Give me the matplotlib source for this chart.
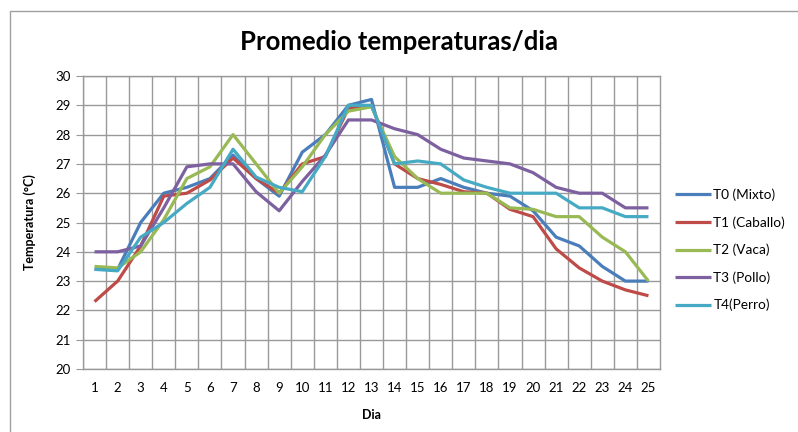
import matplotlib.pyplot as plt
from matplotlib.patches import Rectangle

dias = list(range(1, 26))

t0_mixto = [23.4, 23.4, 25.0, 26.0, 26.2, 26.5, 27.3, 26.5, 25.9, 27.4, 28.0, 29.0, 29.2,
            26.2, 26.2, 26.5, 26.2, 26.0, 25.9, 25.4, 24.5, 24.2, 23.5, 23.0, 23.0]
t1_caballo = [22.3, 23.0, 24.2, 25.9, 26.0, 26.45, 27.2, 26.5, 26.0, 27.0, 27.25, 28.9, 29.0,
              27.0, 26.5, 26.3, 26.05, 26.0, 25.45, 25.2, 24.1, 23.45, 23.0, 22.7, 22.5]
t2_vaca = [23.5, 23.45, 24.0, 25.1, 26.5, 26.9, 28.0, 27.0, 26.0, 26.9, 28.0, 28.8, 28.95,
           27.25, 26.5, 26.0, 26.0, 26.0, 25.5, 25.45, 25.2, 25.2, 24.5, 24.0, 23.0]
t3_pollo = [24.0, 24.0, 24.2, 25.5, 26.9, 27.0, 27.0, 26.05, 25.4, 26.4, 27.3, 28.5, 28.5,
            28.2, 28.0, 27.5, 27.2, 27.1, 27.0, 26.7, 26.2, 26.0, 26.0, 25.5, 25.5]
t4_perro = [23.4, 23.35, 24.5, 25.0, 25.65, 26.2, 27.5, 26.55, 26.2, 26.05, 27.25, 29.0, 29.0,
            27.0, 27.1, 27.0, 26.45, 26.2, 26.0, 26.0, 26.0, 25.5, 25.5, 25.2, 25.2]

series = [
    ("T0 (Mixto)", t0_mixto, "#4A7EBB"),
    ("T1 (Caballo)", t1_caballo, "#BE4B48"),
    ("T2 (Vaca)", t2_vaca, "#98B954"),
    ("T3 (Pollo)", t3_pollo, "#7D60A0"),
    ("T4(Perro)", t4_perro, "#46AAC5"),
]

plt.rcParams['font.family'] = ['Lato', 'DejaVu Sans']

fig = plt.figure(figsize=(7.98, 4.32), dpi=100)
ax = fig.add_axes([83 / 798, 1 - 369 / 432, 577 / 798, 293 / 432])

for nombre, valores, color in series:
    ax.plot(dias, valores, color=color, lw=2.3, label=nombre, solid_capstyle="butt")

ax.set_xlim(0.5, 25.5)
ax.set_ylim(20, 30)
ax.set_yticks(range(20, 31))
ax.set_xticks(dias)
ax.set_xticks([d + 0.5 for d in range(0, 25)], minor=True)
ax.grid(True, which="minor", axis="x", color="#999999", lw=1)
ax.grid(True, which="major", axis="y", color="#999999", lw=1)
ax.set_axisbelow(True)
for s in ax.spines.values():
    s.set_color("#999999")
    s.set_linewidth(1)
ax.tick_params(axis="y", length=5, color="#999999", labelsize=9.5, pad=4)
ax.tick_params(axis="x", which="both", length=0, labelsize=9.5, pad=9)

ax.set_xlabel("Dia", fontsize=9, fontweight="bold", labelpad=11)
ax.set_ylabel("Temperatura (°C)", fontsize=9, fontweight="bold", labelpad=14)
fig.text(0.5, 1 - 42 / 432, "Promedio temperaturas/dia", fontsize=18.5, fontweight="bold",
         ha="center", va="center")

ax.legend(loc="center left", bbox_to_anchor=(580 / 577, (369 - 250) / 293), frameon=False,
          fontsize=9.8, handlelength=2.6, labelspacing=1.1, handletextpad=0.2)

fig.patches.append(Rectangle((10 / 798, -0.1), 1.2, 1 - 11 / 432 + 0.1, transform=fig.transFigure,
                             fill=False, edgecolor="#A0A0A0", lw=1))

fig.savefig("out.png", dpi=100)
